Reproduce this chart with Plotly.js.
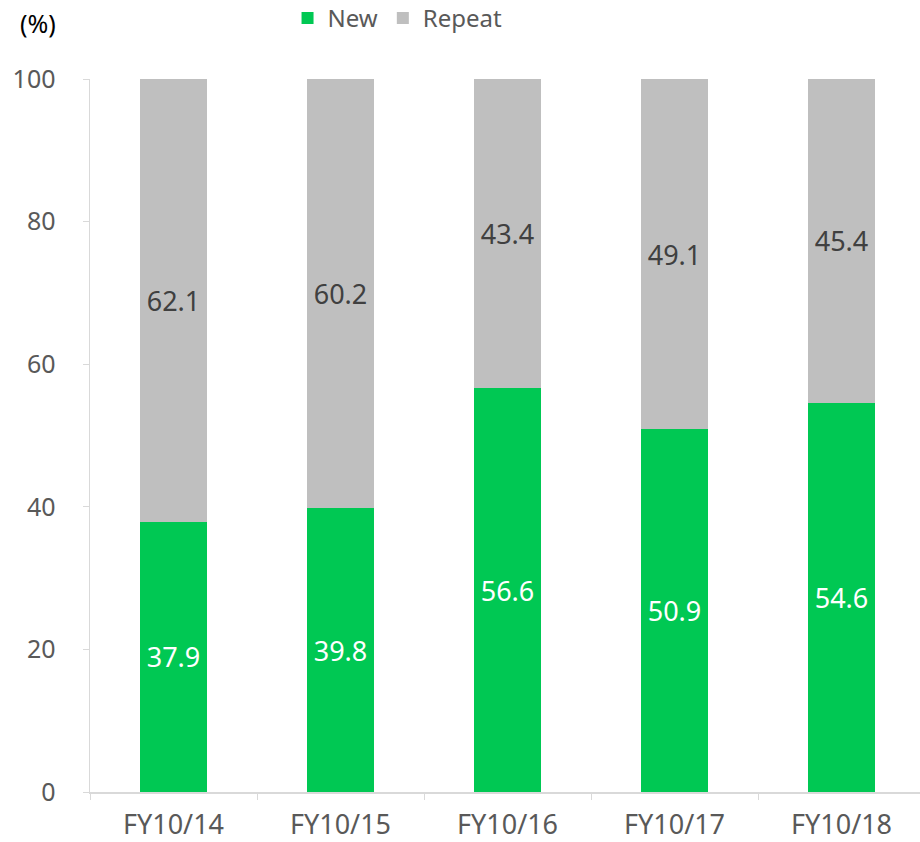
<!DOCTYPE html>
<html>
<head>
<meta charset="utf-8">
<script src="https://cdn.plot.ly/plotly-3.0.1.min.js"></script>
<style>
html,body{margin:0;padding:0;background:#fff;}
#chart{width:920px;height:842px;}
</style>
</head>
<body>
<div id="chart"></div>
<script>
const categories = ["FY10/14", "FY10/15", "FY10/16", "FY10/17", "FY10/18"];
const newValues = [37.9, 39.8, 56.6, 50.9, 54.6];
const repeatValues = [62.1, 60.2, 43.4, 49.1, 45.4];
const yTicks = [0, 20, 40, 60, 80, 100];

const FONT = "Noto Sans, Open Sans, sans-serif";

const traces = [
  {
    type: "bar", name: "New", x: categories, y: newValues,
    marker: {color: "#00C853"},
    text: newValues.map(v => v.toFixed(1)),
    textposition: "inside", insidetextanchor: "middle", textangle: 0,
    constraintext: "none",
    textfont: {color: "#FFFFFF", size: 27, family: FONT},
    hoverinfo: "skip"
  },
  {
    type: "bar", name: "Repeat", x: categories, y: repeatValues,
    marker: {color: "#BFBFBF"},
    text: repeatValues.map(v => v.toFixed(1)),
    textposition: "inside", insidetextanchor: "middle", textangle: 0,
    constraintext: "none",
    textfont: {color: "#404040", size: 27, family: FONT},
    hoverinfo: "skip"
  }
];

const layout = {
  width: 920, height: 842,
  margin: {l: 90, r: 0, t: 79, b: 50, pad: 0, autoexpand: false},
  paper_bgcolor: "#fff", plot_bgcolor: "#fff",
  barmode: "stack", bargap: 0.6,
  font: {family: FONT, color: "#595959", size: 25},
  showlegend: true,
  legend: {
    orientation: "h", x: 0.238, xanchor: "left", y: 1.085, yanchor: "middle",
    font: {size: 24, color: "#595959", family: FONT},
    itemwidth: 30, traceorder: "normal", bgcolor: "rgba(0,0,0,0)"
  },
  xaxis: {
    type: "category", range: [-0.5, 4.47],
    showline: true, linecolor: "#D9D9D9", linewidth: 1.5,
    ticks: "outside", ticklen: 6, tickcolor: "#D9D9D9", tickson: "boundaries",
    showgrid: false, zeroline: false, automargin: false,
    tickfont: {size: 27, color: "#595959", family: FONT},
    ticklabelstandoff: 8, fixedrange: true
  },
  yaxis: {
    range: [0, 100], tickvals: yTicks, ticktext: yTicks.map(String),
    showline: true, linecolor: "#D9D9D9", linewidth: 1.5,
    ticks: "outside", ticklen: 6, tickcolor: "#D9D9D9",
    showgrid: false, zeroline: false, automargin: false,
    tickfont: {size: 25, color: "#595959", family: FONT},
    ticklabelstandoff: 22, fixedrange: true
  },
  annotations: [{
    text: "(%)", xref: "paper", yref: "paper", x: -0.087, y: 1.078,
    xanchor: "left", yanchor: "middle", showarrow: false,
    font: {size: 25, color: "#000000", family: FONT}
  }]
};

Plotly.newPlot("chart", traces, layout, {displayModeBar: false, staticPlot: true});
</script>
</body>
</html>
